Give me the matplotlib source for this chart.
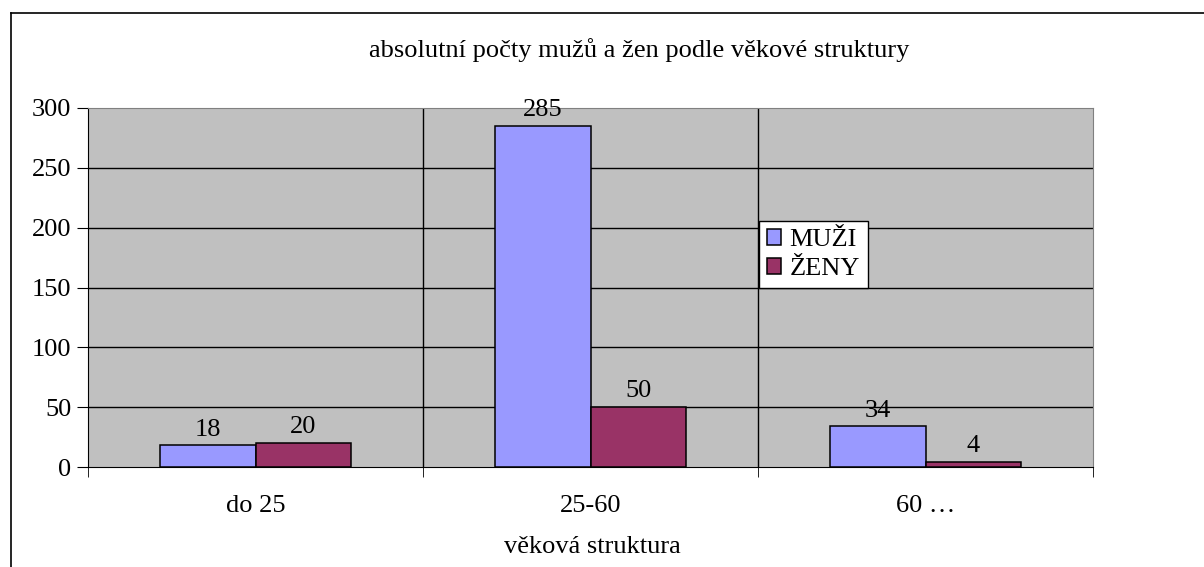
import matplotlib
matplotlib.use('Agg')
import matplotlib.pyplot as plt
from matplotlib.lines import Line2D
import numpy as np

plt.rcParams['font.family'] = ['Liberation Serif', 'DejaVu Serif']

categories = ['do 25', '25-60', '60 …']
muzi = [18, 285, 34]
zeny = [20, 50, 4]
series_names = ['MUŽI', 'ŽENY']
y_ticks = [0, 50, 100, 150, 200, 250, 300]

W, H = 1204, 567
FS = 19
fig = plt.figure(figsize=(W / 100, H / 100), dpi=100)

# outer chart border (only top and left visible in the crop)
fig.add_artist(Line2D([11 / W, 11 / W], [0, 1 - 13 / H], color='black', lw=1.2))
fig.add_artist(Line2D([11 / W, 1], [1 - 13 / H, 1 - 13 / H], color='black', lw=1.2))

ax = fig.add_axes([88 / W, (H - 467) / H, 1005 / W, 359 / H])
ax.set_facecolor('#C0C0C0')

x = np.arange(len(categories))
bw = 1 / 3.5
b1 = ax.bar(x - bw / 2, muzi, bw, color='#9999FF', edgecolor='black', linewidth=1.1,
            label=series_names[0], zorder=3)
b2 = ax.bar(x + bw / 2, zeny, bw, color='#993366', edgecolor='black', linewidth=1.1,
            label=series_names[1], zorder=3)

for bars in (b1, b2):
    for rect in bars:
        ax.annotate(f'{rect.get_height():g}', (rect.get_x() + rect.get_width() / 2, rect.get_height()),
                    xytext=(0, 7), textcoords='offset points', ha='center', va='baseline',
                    fontsize=FS, zorder=4)

ax.set_xlim(-0.5, len(categories) - 0.5)
ax.set_ylim(0, 300)
ax.set_yticks(y_ticks)
ax.set_xticks(x)
ax.set_xticklabels(categories)
ax.set_xticks(np.arange(len(categories) + 1) - 0.5, minor=True)
ax.tick_params(axis='x', which='major', length=0, pad=20, labelsize=FS)
ax.tick_params(axis='x', which='minor', length=7, direction='out', color='black')
ax.tick_params(axis='y', length=8, direction='out', pad=4, labelsize=FS)

for v in y_ticks[1:-1]:
    ax.axhline(v, color='black', lw=1, zorder=1)
for b in np.arange(1, len(categories)) - 0.5:
    ax.axvline(b, color='black', lw=1, zorder=1)

ax.spines['top'].set_color('#808080')
ax.spines['right'].set_color('#808080')
ax.spines['left'].set_color('black')
ax.spines['bottom'].set_color('black')

fig.text(639 / W, 1 - 50 / H, 'absolutní počty mužů a žen podle věkové struktury',
         ha='center', va='center', fontsize=FS)
fig.text(592 / W, 1 - 547 / H, 'věková struktura', ha='center', va='center', fontsize=FS)

leg = ax.legend(loc='upper left', bbox_to_anchor=(759 / W, 1 - 221 / H),
                bbox_transform=fig.transFigure, frameon=True, fancybox=False,
                edgecolor='black', framealpha=1, fontsize=FS, handlelength=0.55,
                handleheight=0.55, handletextpad=0.3, borderpad=0.3, labelspacing=0.25,
                borderaxespad=0)
leg.get_frame().set_linewidth(1)

fig.savefig('out.png', dpi=100)
